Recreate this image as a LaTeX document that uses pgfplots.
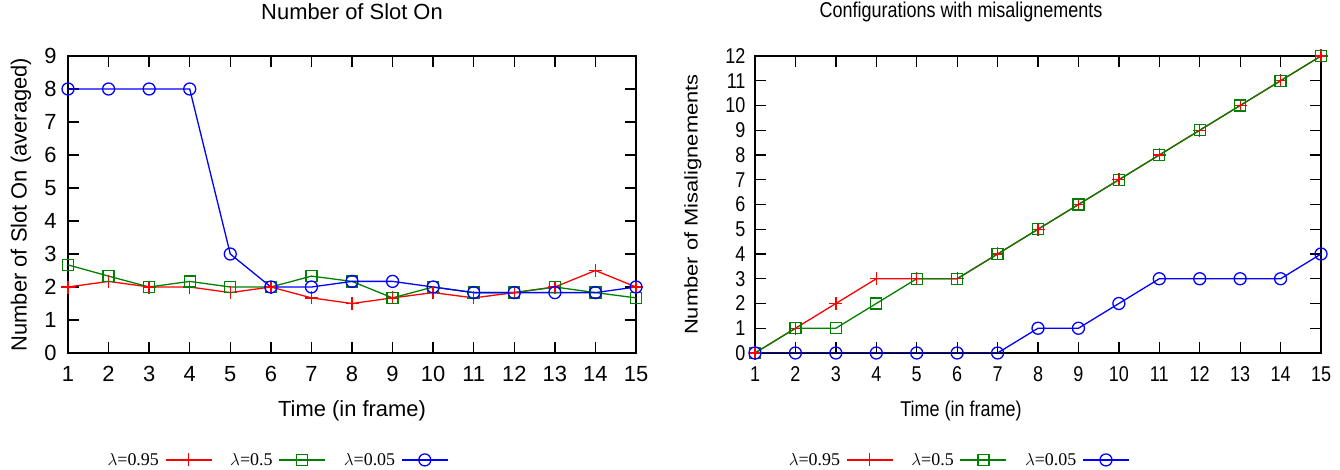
\documentclass[border=0pt]{standalone}
\usepackage{fontspec}
\setmainfont{Liberation Sans}
\newfontfamily\legfont{Liberation Serif}
\usepackage{graphicx}
\usepackage{pgfplots}
\pgfplotsset{compat=1.18}

\definecolor{gpred}{RGB}{255,0,0}
\definecolor{gpgreen}{RGB}{0,128,0}
\definecolor{gpblue}{RGB}{0,0,255}

% the right panel is squeezed sideways in the reference
\newcommand{\narrow}[1]{\scalebox{0.84}[1]{#1}}

\pgfplotsset{
  gnu/.style={
    scale only axis,
    height=297bp,
    xmin=1, xmax=15, xtick={1,...,15},
    axis line style={line width=1.6bp},
    tick style={black, line width=1.3bp},
    tick align=inside,
    major tick length=11bp,
    /pgf/number format/assume math mode=true,
    xticklabel style={yshift=-10bp},
    every axis plot/.append style={line width=1.3bp, mark options={solid, line width=1.3bp}},
    legend columns=3,
    legend plot pos=right,
    legend style={draw=none, fill=none, font=\legfont\fontsize{18}{20}\selectfont,
      /tikz/every odd column/.append style={column sep=4bp},
      /tikz/every even column/.append style={column sep=16bp}},
    legend image code/.code={
      \draw[mark repeat=2, mark phase=2] plot coordinates {(0bp,0bp) (23bp,0bp) (46bp,0bp)};
    },
  },
  pr/.style={gpred, mark=+, mark size=6.5bp},
  pg/.style={gpgreen, mark=square, mark size=5.5bp},
  pb/.style={gpblue, mark=o, mark size=6bp},
}

\begin{document}
\begin{tikzpicture}
\useasboundingbox (0,0) rectangle (1340bp,470bp);

% left: slots on
\begin{axis}[gnu,
  at={(68bp,117bp)}, anchor=south west,
  width=568bp,
  ymin=0, ymax=9, ytick={0,...,9},
  font=\fontsize{22}{25}\selectfont,
  yticklabel style={xshift=-8bp},
  title={Number of Slot On},
  title style={at={(axis description cs:0.5,1.128)}, anchor=center},
  xlabel={Time (in frame)},
  xlabel style={at={(axis description cs:0.5,-0.195)}, anchor=center},
  ylabel={Number of Slot On (averaged)},
  ylabel style={at={(axis description cs:-0.083,0.5)}, anchor=center, rotate=0},
  legend style={at={(axis description cs:0.368,-0.36)}, anchor=center},
]
\addplot[pr] coordinates {(1,2.0) (2,2.17) (3,2.0) (4,2.0) (5,1.83) (6,2.0) (7,1.67) (8,1.5) (9,1.67) (10,1.83) (11,1.67) (12,1.83) (13,2.0) (14,2.5) (15,2.0)};
\addplot[pg] coordinates {(1,2.67) (2,2.33) (3,2.0) (4,2.17) (5,2.0) (6,2.0) (7,2.33) (8,2.17) (9,1.67) (10,2.0) (11,1.83) (12,1.83) (13,2.0) (14,1.83) (15,1.67)};
\addplot[pb] coordinates {(1,8) (2,8) (3,8) (4,8) (5,3) (6,2.0) (7,2.0) (8,2.17) (9,2.17) (10,2.0) (11,1.83) (12,1.83) (13,1.83) (14,1.83) (15,2.0)};
\legend{$\lambda$=0.95,$\lambda$=0.5,$\lambda$=0.05}
\end{axis}

% right: misalignments
\begin{axis}[gnu,
  at={(755bp,117bp)}, anchor=south west,
  width=566bp,
  ymin=0, ymax=12, ytick={0,...,12},
  font=\fontsize{21.5}{25}\selectfont,
  xticklabel={\narrow{\pgfmathprintnumber{\tick}}},
  yticklabel={\narrow{\pgfmathprintnumber{\tick}}},
  yticklabel style={xshift=-6bp},
  title={\narrow{Configurations with misalignements}},
  title style={at={(axis description cs:0.364,1.128)}, anchor=center},
  xlabel={\narrow{Time (in frame)}},
  xlabel style={at={(axis description cs:0.364,-0.195)}, anchor=center},
  ylabel={\scalebox{1}[0.84]{Number of Misalignements}},
  ylabel style={at={(axis description cs:-0.110,0.5)}, anchor=center, rotate=0,
    font=\fontsize{22}{25}\selectfont},
  legend style={at={(axis description cs:0.359,-0.36)}, anchor=center},
]
\addplot[pr] coordinates {(1,0) (2,1) (3,2) (4,3) (5,3) (6,3) (7,4) (8,5) (9,6) (10,7) (11,8) (12,9) (13,10) (14,11) (15,12)};
\addplot[pg] coordinates {(1,0) (2,1) (3,1) (4,2) (5,3) (6,3) (7,4) (8,5) (9,6) (10,7) (11,8) (12,9) (13,10) (14,11) (15,12)};
\addplot[pb] coordinates {(1,0) (2,0) (3,0) (4,0) (5,0) (6,0) (7,0) (8,1) (9,1) (10,2) (11,3) (12,3) (13,3) (14,3) (15,4)};
\legend{$\lambda$=0.95,$\lambda$=0.5,$\lambda$=0.05}
\end{axis}
\end{tikzpicture}
\end{document}
